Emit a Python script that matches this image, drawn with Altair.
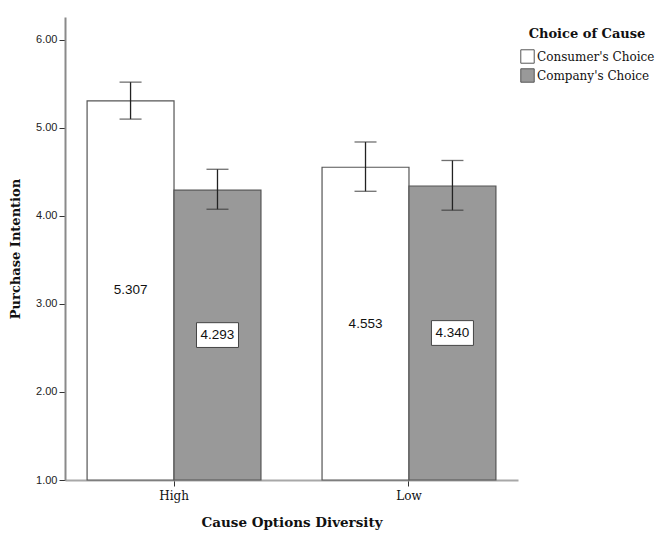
import altair as alt
import pandas as pd

diversity = ["High", "High", "Low", "Low"]
choice = ["Consumer's Choice", "Company's Choice", "Consumer's Choice", "Company's Choice"]
means = [5.307, 4.293, 4.553, 4.340]
ci_low = [5.10, 4.076, 4.28, 4.065]
ci_high = [5.52, 4.53, 4.84, 4.63]
labels = ["5.307", "4.293", "4.553", "4.340"]

df = pd.DataFrame({
    "diversity": diversity,
    "choice": choice,
    "mean": means,
    "lo": ci_low,
    "hi": ci_high,
    "label": labels,
})
df["mid"] = (df["mean"] + 1) / 2
df["boxed"] = df["choice"] == "Company's Choice"

groups = ["Consumer's Choice", "Company's Choice"]
SERIF = "DejaVu Serif"

x = alt.X("diversity:N", sort=["High", "Low"],
          scale=alt.Scale(paddingInner=0.26, paddingOuter=0.094),
          axis=alt.Axis(title="Cause Options Diversity", labelAngle=0,
                        labelFont=SERIF, labelFontSize=12, labelColor="#111",
                        titleFont=SERIF, titleFontSize=13.5, titleFontWeight="bold",
                        titleColor="#111", titlePadding=14,
                        domainColor="#a8a8a8", domainWidth=2, tickColor="#333",
                        tickSize=6, labelPadding=4))
xo = alt.XOffset("choice:N", sort=groups, scale=alt.Scale(paddingInner=0, paddingOuter=0))
yscale = alt.Scale(domain=[1, 6.26], zero=False, nice=False)

bars = alt.Chart(df).mark_bar(stroke="#555", strokeWidth=1.2).encode(
    x=x,
    xOffset=xo,
    y=alt.Y("mean:Q", scale=yscale,
            axis=alt.Axis(title="Purchase Intention", values=[1, 2, 3, 4, 5, 6], format=".2f",
                          labelFont="Liberation Sans", labelFontSize=11, labelColor="#222",
                          titleFont=SERIF, titleFontSize=13, titleFontWeight="bold",
                          titleColor="#111", titlePadding=13,
                          domainColor="#8a8a8a", domainWidth=2, tickColor="#333",
                          tickSize=6, labelPadding=2, grid=False)),
    y2=alt.datum(1),
    fill=alt.Fill("choice:N", sort=groups,
                  scale=alt.Scale(domain=groups, range=["#ffffff", "#999999"]),
                  legend=alt.Legend(title="Choice of Cause", orient="none", legendX=455, legendY=11,
                                    titleFont=SERIF, titleFontSize=13,
                                    titleFontWeight="bold", titleColor="#111",
                                    titleAnchor="middle", titlePadding=8,
                                    labelFont=SERIF, labelFontSize=12,
                                    labelColor="#111", symbolType="square", symbolSize=180,
                                    symbolStrokeColor="#555", symbolStrokeWidth=1,
                                    labelOffset=2, rowPadding=0)),
)

rules = alt.Chart(df).mark_rule(color="#222", strokeWidth=1.3).encode(
    x=x, xOffset=xo, y=alt.Y("lo:Q", scale=yscale), y2="hi:Q")
cap_lo = alt.Chart(df).mark_tick(color="#333", size=22, thickness=1.3, orient="horizontal").encode(
    x=x, xOffset=xo, y=alt.Y("lo:Q", scale=yscale))
cap_hi = alt.Chart(df).mark_tick(color="#333", size=22, thickness=1.3, orient="horizontal").encode(
    x=x, xOffset=xo, y=alt.Y("hi:Q", scale=yscale))

boxes = alt.Chart(df).transform_filter("datum.boxed").mark_point(
    shape="M-1,-0.59L1,-0.59L1,0.59L-1,0.59Z", filled=True, fill="white", stroke="#444",
    strokeWidth=1, size=42 * 42, opacity=1).encode(
    x=x, xOffset=xo, y=alt.Y("mid:Q", scale=yscale))

texts = alt.Chart(df).mark_text(font="Liberation Sans", fontSize=13.5, color="#111").encode(
    x=x, xOffset=xo, y=alt.Y("mid:Q", scale=yscale), text="label:N")

chart = alt.layer(bars, rules, cap_lo, cap_hi, boxes, texts).properties(
    width=453, height=463,
    autosize=alt.AutoSizeParams(type="none"),
    padding={"left": 57, "top": 9, "right": 145, "bottom": 57},
    background="white",
).configure_view(stroke=None)

chart.save("out.html", embed_options={"renderer": "svg", "actions": False})
